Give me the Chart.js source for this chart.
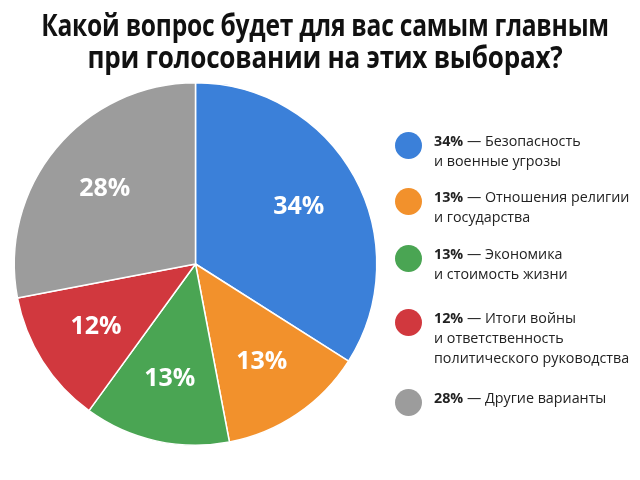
<!DOCTYPE html>
<html lang="ru">
<head>
<meta charset="utf-8">
<script src="https://cdn.jsdelivr.net/npm/chart.js@4.4.1/dist/chart.umd.min.js"></script>
<style>
  html, body { margin: 0; padding: 0; background: #fff; }
  #wrap { position: relative; width: 640px; height: 480px; overflow: hidden; font-family: "Open Sans", sans-serif; }
  #pie { position: absolute; left: 0; top: 0; }
  .tline {
    position: absolute; left: -175px; width: 1000px; text-align: center;
    font-weight: 700; font-size: 30px; line-height: 32px; color: #111; white-space: nowrap;
    transform-origin: 500px 0; letter-spacing: -0.3px;
  }
  #legend { position: absolute; left: 395px; top: 0; }
  .item { position: absolute; left: 0; width: 245px; }
  .dot { position: absolute; left: 0; width: 27px; height: 27px; border-radius: 50%; }
  .txt { position: absolute; left: 39px; font-size: 14.3px; line-height: 20px; color: #222; white-space: nowrap; }
  .txt b { font-weight: 700; }
</style>
</head>
<body>
<div id="wrap">
  <canvas id="pie" width="640" height="480"></canvas>
  <div class="tline" style="top:9px; transform:scaleX(0.82)">Какой вопрос будет для вас самым главным</div>
  <div class="tline" style="top:41px; transform:scaleX(0.87)">при голосовании на этих выборах?</div>
  <div id="legend"></div>
</div>
<script>
// ------------------ Data ------------------
const categories = [
  ["Безопасность", "и военные угрозы"],
  ["Отношения религии", "и государства"],
  ["Экономика", "и стоимость жизни"],
  ["Итоги войны", "и ответственность", "политического руководства"],
  ["Другие варианты"]
];
const shares = [34, 13, 13, 12, 28];
const colors = ["#3b80d9", "#f2912c", "#4aa553", "#d1383e", "#9c9c9c"];
// legend circle centre y for each item
const legendY = [145, 201, 258, 322, 402];

// ------------------ Legend ------------------
const legend = document.getElementById("legend");
categories.forEach((lines, i) => {
  const item = document.createElement("div");
  item.className = "item";
  item.style.top = legendY[i] + "px";
  const dot = document.createElement("div");
  dot.className = "dot";
  dot.style.background = colors[i];
  dot.style.top = "-13px";
  const txt = document.createElement("div");
  txt.className = "txt";
  txt.style.top = "-14px";
  txt.innerHTML = `<b>${shares[i]}%</b> — ${lines[0]}` + lines.slice(1).map(l => `<br>${l}`).join("");
  item.appendChild(dot);
  item.appendChild(txt);
  legend.appendChild(item);
});

// ------------------ Slice labels ------------------
const sliceLabels = {
  id: "sliceLabels",
  afterDatasetsDraw(chart) {
    const ctx = chart.ctx;
    const meta = chart.getDatasetMeta(0);
    ctx.save();
    ctx.fillStyle = "#fff";
    ctx.font = "700 25px 'Open Sans'";
    ctx.textAlign = "center";
    ctx.textBaseline = "middle";
    meta.data.forEach((arc, i) => {
      const p = arc.getProps(["x", "y", "startAngle", "endAngle", "outerRadius"], true);
      const mid = (p.startAngle + p.endAngle) / 2;
      const r = p.outerRadius * 0.65;
      ctx.fillText(shares[i] + "%", p.x + Math.cos(mid) * r, p.y + Math.sin(mid) * r);
    });
    ctx.restore();
  }
};

// ------------------ Chart ------------------
new Chart(document.getElementById("pie").getContext("2d"), {
  type: "pie",
  data: {
    labels: categories.map(l => l.join(" ")),
    datasets: [{
      data: shares,
      backgroundColor: colors,
      borderColor: "#fff",
      borderWidth: 1.5
    }]
  },
  options: {
    responsive: false,
    animation: false,
    layout: { padding: { left: 13, top: 82, right: 262, bottom: 34 } },
    plugins: { legend: { display: false }, tooltip: { enabled: false }, title: { display: false } }
  },
  plugins: [sliceLabels]
});
</script>
</body>
</html>
